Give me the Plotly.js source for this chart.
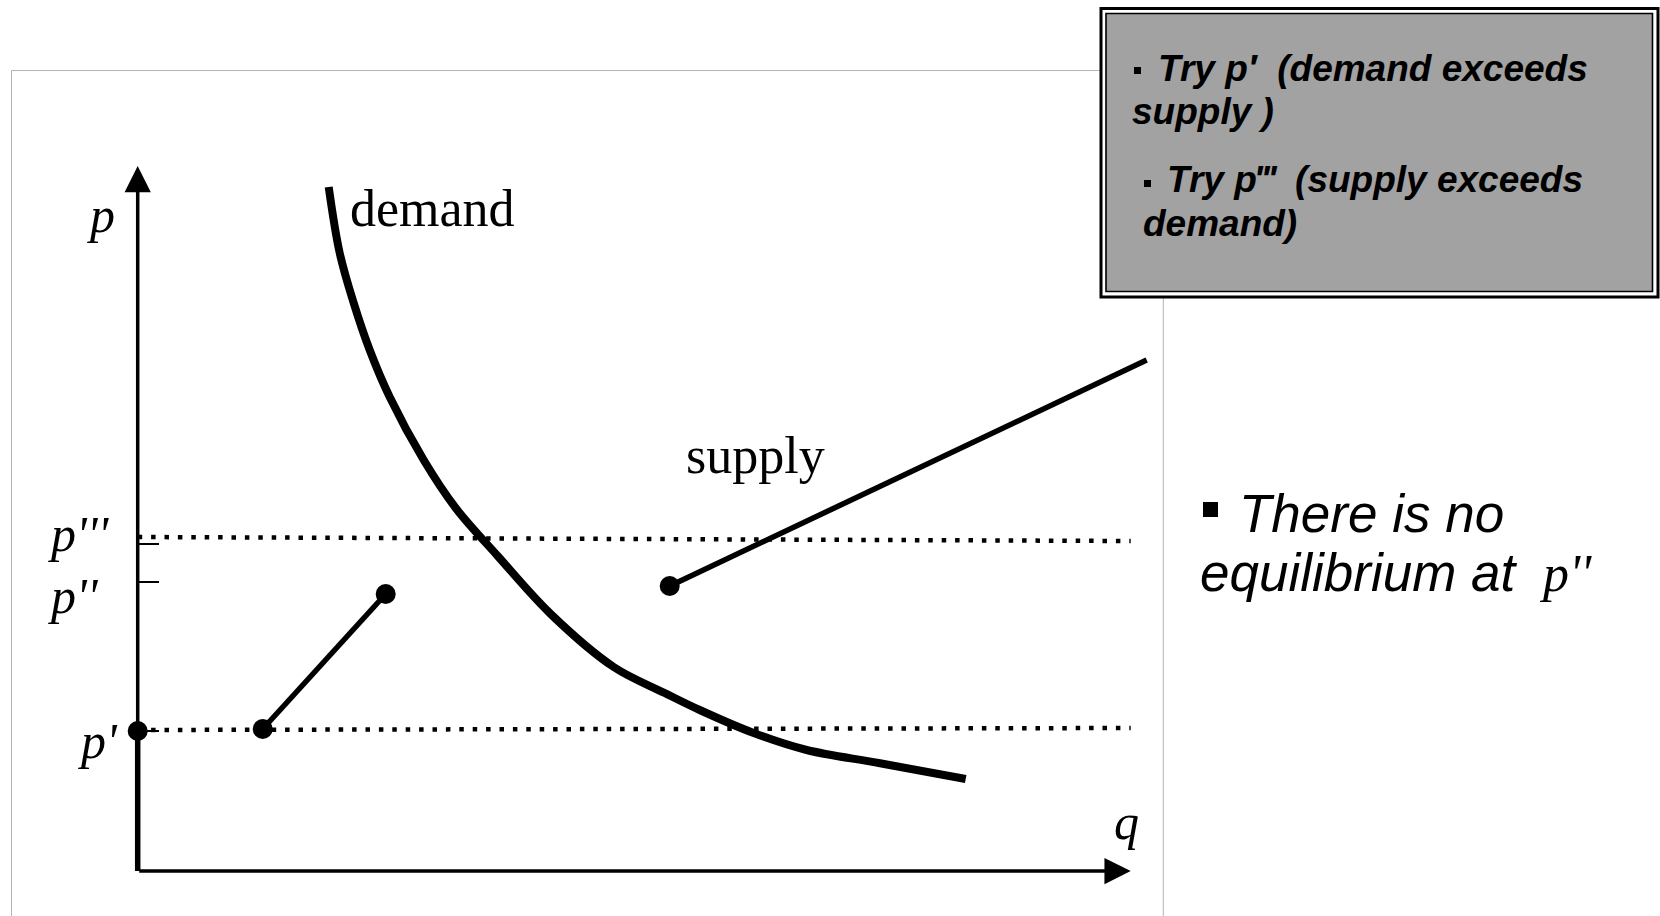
<!DOCTYPE html>
<html>
<head>
<meta charset="utf-8">
<script src="https://cdn.plot.ly/plotly-3.0.1.min.js"></script>
<style>
  html, body { margin: 0; padding: 0; background: #ffffff; }
  #chart { width: 1660px; height: 916px; }
</style>
</head>
<body>
<div id="chart"></div>
<script>
// ---------- data (q, p in chart units) ----------
const demandQ = [1.91, 2.02, 2.16, 2.32, 2.52, 2.86, 3.18, 3.60, 4.13, 4.76, 5.27, 5.62, 6.16, 6.69, 7.41, 8.28];
const demandP = [6.84, 6.18, 5.68, 5.21, 4.74, 4.11, 3.63, 3.15, 2.57, 2.04, 1.78, 1.61, 1.38, 1.21, 1.08, 0.92];

const supplyVertQ = [0, 0];
const supplyVertP = [0, 1.40];
const supplyLowQ = [1.25, 2.48];
const supplyLowP = [1.42, 2.77];
const supplyHighQ = [5.32, 10.09];
const supplyHighP = [2.85, 5.11];
const dotQ = [0, 5.32];
const dotP = [1.40, 2.85];

const priceLineQ = [0, 9.93];
const pPrimeLineP = [1.41, 1.43];
const pTripleLineP = [3.34, 3.30];

const tickVals = [1.40, 2.89, 3.27];
const tickLabels = ["p'", "p''", "p'''"];

const qAxis = [0, 9.93];
const pAxis = [0, 7.05];

// ---------- page geometry helpers ----------
const W = 1660, H = 916;
const px = v => v / W;
const py = v => 1 - v / H;

const SERIF = "'Liberation Serif', 'Times New Roman', serif";
const SANS = "'Liberation Sans', Arial, sans-serif";

function txt(text, xLeft, baseline, size, family, descent) {
  return {
    xref: 'paper', yref: 'paper',
    x: px(xLeft), y: py(baseline + descent * size),
    xanchor: 'left', yanchor: 'bottom',
    showarrow: false, borderpad: 0,
    text: text,
    font: { family: family, size: size, color: '#000000' }
  };
}

const black = '#000000';

const traces = [
  { x: priceLineQ, y: pTripleLineP, mode: 'lines', line: { color: black, width: 4.5, dash: '4.5px,8.9px' }, hoverinfo: 'skip' },
  { x: priceLineQ, y: pPrimeLineP, mode: 'lines', line: { color: black, width: 4.5, dash: '4.5px,8.9px' }, hoverinfo: 'skip' },
  { x: demandQ, y: demandP, mode: 'lines', line: { color: black, width: 8, shape: 'spline', smoothing: 1 }, hoverinfo: 'skip' },
  { x: supplyVertQ, y: supplyVertP, mode: 'lines', line: { color: black, width: 5.5 }, hoverinfo: 'skip' },
  { x: supplyLowQ, y: supplyLowP, mode: 'lines+markers', line: { color: black, width: 5.5 }, marker: { color: black, size: 20 }, hoverinfo: 'skip' },
  { x: supplyHighQ, y: supplyHighP, mode: 'lines', line: { color: black, width: 5.5 }, hoverinfo: 'skip' },
  { x: dotQ, y: dotP, mode: 'markers', marker: { color: black, size: 20, opacity: 1 }, hoverinfo: 'skip' }
];

const arrowStyle = { text: '', showarrow: true, arrowhead: 2, arrowsize: 1.5, arrowwidth: 3.5, arrowcolor: black, standoff: 0,
                     xref: 'x', yref: 'y', axref: 'x', ayref: 'y' };

const annotations = [
  // axes with arrowheads
  Object.assign({ x: qAxis[1], y: pAxis[0], ax: qAxis[0], ay: pAxis[0] }, arrowStyle),
  Object.assign({ x: qAxis[0], y: pAxis[1], ax: qAxis[0], ay: pAxis[0] }, arrowStyle),

  // axis titles & tick labels
  txt('<i>p</i>', 86, 233, 50, SERIF, 0.216),
  txt('<i>q</i>', 1113, 840, 50, SERIF, 0.216),
  txt('<i>' + tickLabels[2] + '</i>', 47, 552, 50, SERIF, 0.216),
  txt('<i>' + tickLabels[1] + '</i>', 47, 614, 50, SERIF, 0.216),
  txt('<i>' + tickLabels[0] + '</i>', 77, 759, 50, SERIF, 0.216),

  // curve labels
  txt('demand', 349, 227, 52, SERIF, 0.216),
  txt('supply', 685, 474, 52, SERIF, 0.216),

  // box text
  txt('<b><i>Try p\u2032 \u00a0(demand exceeds</i></b>', 1157, 82, 37, SANS, 0.212),
  txt('<b><i>supply )</i></b>', 1131, 125, 37, SANS, 0.212),
  txt('<b><i>Try p\u2034 \u00a0(supply exceeds</i></b>', 1166, 193, 37, SANS, 0.212),
  txt('<b><i>demand)</i></b>', 1142, 237, 37, SANS, 0.212),

  // side note
  txt('<i>There is no</i>', 1238, 533, 53, SANS, 0.212),
  txt('<i>equilibrium at</i>', 1199, 592, 53, SANS, 0.212),
  txt("<i>p''</i>", 1538, 592, 52, SERIF, 0.216)
];

const shapes = [
  // light frame around the diagram
  { type: 'rect', xref: 'paper', yref: 'paper', x0: px(11.5), x1: px(1163.3), y0: py(940), y1: py(70.5),
    line: { color: '#b4b4b4', width: 1 }, fillcolor: 'rgba(0,0,0,0)', layer: 'below' },
  // gray note box with double border
  { type: 'rect', xref: 'paper', yref: 'paper', x0: px(1101), x1: px(1658), y0: py(297), y1: py(8.5),
    line: { color: black, width: 3 }, fillcolor: '#ffffff' },
  { type: 'rect', xref: 'paper', yref: 'paper', x0: px(1106), x1: px(1652.5), y0: py(291.5), y1: py(13.5),
    line: { color: black, width: 1.6 }, fillcolor: '#a2a2a2' },
  // bullets
  { type: 'rect', xref: 'paper', yref: 'paper', x0: px(1134), x1: px(1141), y0: py(74), y1: py(67),
    line: { width: 0 }, fillcolor: black },
  { type: 'rect', xref: 'paper', yref: 'paper', x0: px(1144), x1: px(1151), y0: py(187), y1: py(180),
    line: { width: 0 }, fillcolor: black },
  { type: 'rect', xref: 'paper', yref: 'paper', x0: px(1203), x1: px(1218), y0: py(517), y1: py(502),
    line: { width: 0 }, fillcolor: black }
];

const layout = {
  width: W, height: H,
  margin: { l: 0, r: 0, t: 0, b: 0, pad: 0 },
  paper_bgcolor: '#ffffff', plot_bgcolor: '#ffffff',
  showlegend: false,
  xaxis: { range: [-1.377, 15.223], visible: false, fixedrange: true },
  yaxis: {
    range: [-0.45, 8.71], fixedrange: true,
    anchor: 'free', position: 137.7 / W,
    showline: false, showgrid: false, zeroline: false,
    showticklabels: false,
    ticks: 'inside', ticklen: 20, tickwidth: 2.5, tickcolor: black,
    tickmode: 'array', tickvals: tickVals
  },
  annotations: annotations,
  shapes: shapes
};

Plotly.newPlot('chart', traces, layout, { staticPlot: true, displayModeBar: false });
</script>
</body>
</html>
